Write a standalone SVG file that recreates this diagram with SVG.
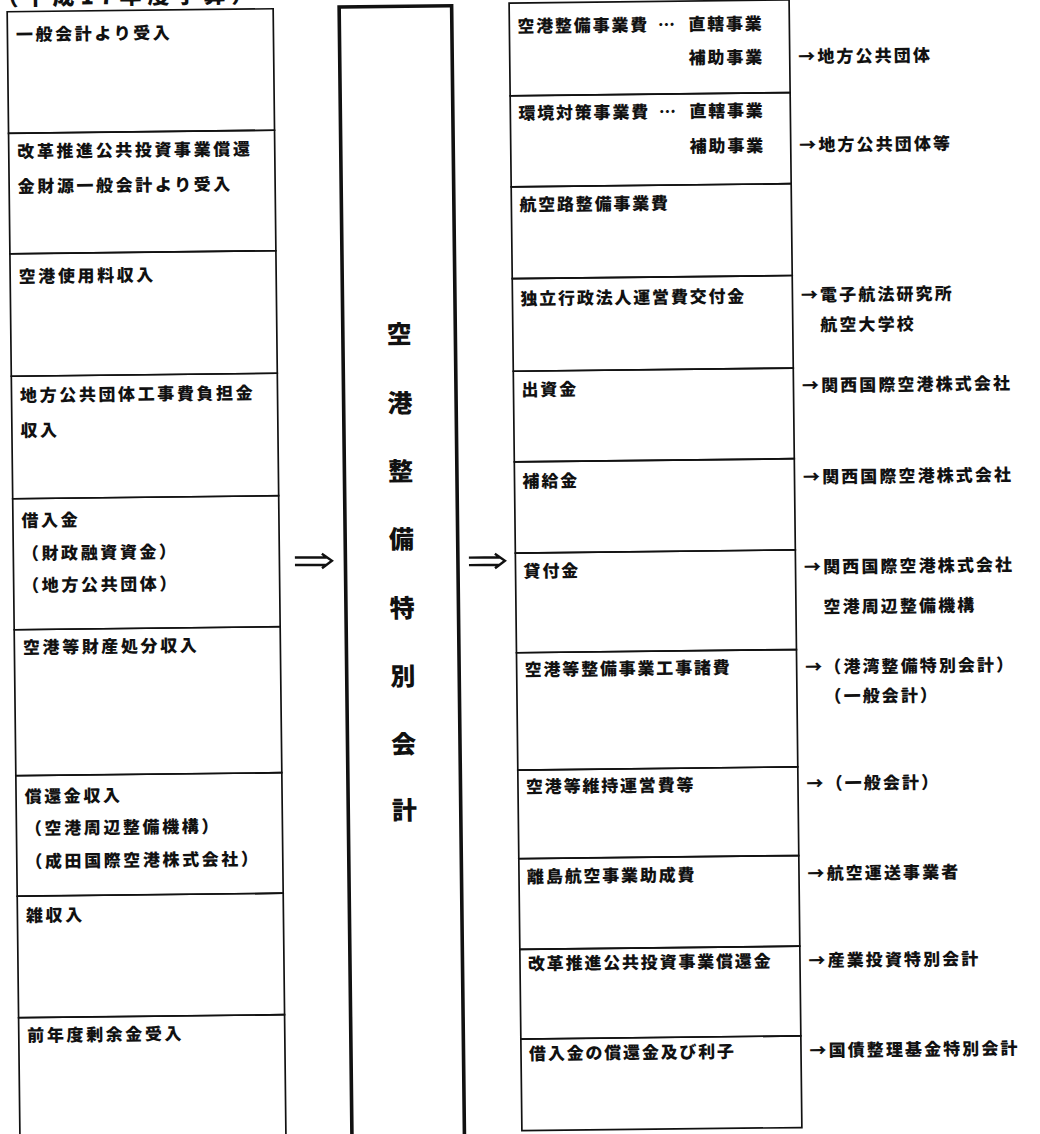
<svg xmlns="http://www.w3.org/2000/svg" width="1040" height="1134" viewBox="0 0 1040 1134">
<style>
.box{fill:none;stroke:#111;stroke-width:1.7}
.main{fill:none;stroke:#111;stroke-width:3.6}
.t{font-family:"Noto Sans CJK JP","Noto Sans CJK SC",sans-serif;font-weight:900;font-size:17px;fill:#111}
.tl{letter-spacing:2.6px}
.tr{letter-spacing:1.8px}
.to{letter-spacing:2.1px}
.tc{font-size:25px;text-anchor:middle}
.ttl{font-size:22px;letter-spacing:6px}
.arr{fill:none;stroke:#111;stroke-width:2.4}
</style>
<rect x="0" y="0" width="1040" height="1134" fill="#fff"/>
<g transform="rotate(-0.65 520 567)">
<text id="title" class="t ttl" x="3" y="-0.5">（平成17年度予算）</text>

<g id="L1"><rect class="box" x="13.5" y="6" width="266" height="121.5"/><text class="t tl" x="22" y="35">一般会計より受入</text></g>
<g id="L2"><rect class="box" x="13.5" y="127.5" width="266" height="120.5"/><text class="t tl" x="22" y="152">改革推進公共投資事業償還</text><text class="t tl" x="22" y="187">金財源一般会計より受入</text></g>
<g id="L3"><rect class="box" x="13.5" y="248" width="266" height="122.5"/><text class="t tl" x="22" y="277">空港使用料収入</text></g>
<g id="L4"><rect class="box" x="13.5" y="370.5" width="266" height="122.5"/><text class="t tl" x="22" y="396">地方公共団体工事費負担金</text><text class="t tl" x="22" y="431">収入</text></g>
<g id="L5"><rect class="box" x="13.5" y="493" width="266" height="131"/><text class="t tl" x="22" y="521">借入金</text><text class="t tl" x="22" y="554">（財政融資資金）</text><text class="t tl" x="22" y="586">（地方公共団体）</text></g>
<g id="L6"><rect class="box" x="13.5" y="624" width="266" height="146"/><text class="t tl" x="22" y="648">空港等財産処分収入</text></g>
<g id="L7"><rect class="box" x="13.5" y="770" width="266" height="120.5"/><text class="t tl" x="22" y="797">償還金収入</text><text class="t tl" x="22" y="829">（空港周辺整備機構）</text><text class="t tl" x="22" y="862">（成田国際空港株式会社）</text></g>
<g id="L8"><rect class="box" x="13.5" y="890.5" width="266" height="121.5"/><text class="t tl" x="22" y="916">雑収入</text></g>
<g id="L9"><rect class="box" x="13.5" y="1012" width="266" height="150"/><text class="t tl" x="22" y="1036">前年度剰余金受入</text></g>

<g id="center"><rect class="main" x="345.5" y="5" width="112.5" height="1160"/>
<text class="t tc" x="401.75" y="342">空</text>
<text class="t tc" x="401.75" y="411">港</text>
<text class="t tc" x="401.75" y="479">整</text>
<text class="t tc" x="401.75" y="547">備</text>
<text class="t tc" x="401.75" y="616">特</text>
<text class="t tc" x="401.75" y="684">別</text>
<text class="t tc" x="401.75" y="752">会</text>
<text class="t tc" x="401.75" y="818">計</text>
</g>

<g id="R1"><rect class="box" x="515.5" y="3" width="280" height="92.7"/><text class="t tr" x="523.5" y="32.5">空港整備事業費<tspan x="664">…</tspan><tspan x="694.5">直轄事業</tspan></text><text class="t tr" x="694.5" y="66">補助事業</text><text class="t to" x="804" y="66">→地方公共団体</text></g>
<g id="R2"><rect class="box" x="515.5" y="95.7" width="280" height="91.1"/><text class="t tr" x="523.5" y="119.5">環境対策事業費<tspan x="664">…</tspan><tspan x="694.5">直轄事業</tspan></text><text class="t tr" x="694.5" y="154.5">補助事業</text><text class="t to" x="804" y="154.5">→地方公共団体等</text></g>
<g id="R3"><rect class="box" x="515.5" y="186.8" width="280" height="91.8"/><text class="t tr" x="523.5" y="211">航空路整備事業費</text></g>
<g id="R4"><rect class="box" x="515.5" y="278.6" width="280" height="92.6"/><text class="t tr" x="523.5" y="305">独立行政法人運営費交付金</text><text class="t to" x="804" y="304.5">→電子航法研究所</text><text class="t to" x="823" y="334.5">航空大学校</text></g>
<g id="R5"><rect class="box" x="515.5" y="371.2" width="280" height="90.6"/><text class="t tr" x="523.5" y="396">出資金</text><text class="t to" x="804" y="395">→関西国際空港株式会社</text></g>
<g id="R6"><rect class="box" x="515.5" y="461.8" width="280" height="91.2"/><text class="t tr" x="523.5" y="487.5">補給金</text><text class="t to" x="804" y="486.5">→関西国際空港株式会社</text></g>
<g id="R7"><rect class="box" x="515.5" y="553" width="280" height="99.7"/><text class="t tr" x="523.5" y="577.5">貸付金</text><text class="t to" x="804" y="576.5">→関西国際空港株式会社</text><text class="t to" x="823" y="616.5">空港周辺整備機構</text></g>
<g id="R8"><rect class="box" x="515.5" y="652.7" width="280" height="117.3"/><text class="t tr" x="523.5" y="676">空港等整備事業工事諸費</text><text class="t to" x="804" y="676.5">→（港湾整備特別会計）</text><text class="t to" x="823" y="706">（一般会計）</text></g>
<g id="R9"><rect class="box" x="515.5" y="770" width="280" height="88.7"/><text class="t tr" x="523.5" y="793">空港等維持運営費等</text><text class="t to" x="804" y="793">→（一般会計）</text></g>
<g id="R10"><rect class="box" x="515.5" y="858.7" width="280" height="90.6"/><text class="t tr" x="523.5" y="883">離島航空事業助成費</text><text class="t to" x="804" y="883">→航空運送事業者</text></g>
<g id="R11"><rect class="box" x="515.5" y="949.3" width="280" height="89.7"/><text class="t tr" x="523.5" y="970">改革推進公共投資事業償還金</text><text class="t to" x="804" y="970">→産業投資特別会計</text></g>
<g id="R12"><rect class="box" x="515.5" y="1039" width="280" height="91.7"/><text class="t tr" x="523.5" y="1060">借入金の償還金及び利子</text><text class="t to" x="804" y="1060">→国債整理基金特別会計</text></g>

<g id="connectors">
<path class="arr" d="M295 555 H327 M295 562.5 H327 M322 551.5 L332 558.7 L322 566"/>
<path class="arr" d="M469 557 H500 M469 564.5 H500 M495 553.5 L505 560.6 L495 568"/>
</g>
</g>
</svg>
